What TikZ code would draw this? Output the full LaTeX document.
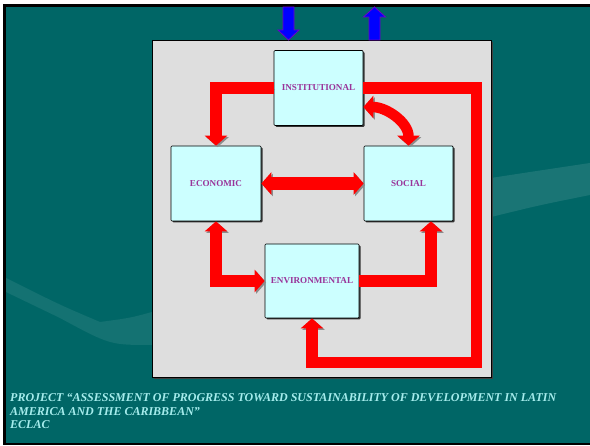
\documentclass[tikz,border=0pt]{standalone}
\usepackage{fontspec}
\setmainfont{Liberation Serif}
\usetikzlibrary{positioning, calc, arrows.meta, shadows}
\definecolor{slidebg}{RGB}{0,102,102}
\definecolor{panelgray}{RGB}{222,222,222}
\definecolor{boxcyan}{RGB}{204,255,255}
\definecolor{labelpurple}{RGB}{153,51,153}
\definecolor{footcyan}{RGB}{165,236,236}
\definecolor{outlinepurple}{RGB}{110,0,200}
\tikzset{sector/.style={draw=black, line width=0.7pt, fill=boxcyan, minimum width=89pt, minimum height=75pt, inner sep=0pt, rounded corners=1pt, drop shadow={shadow xshift=1.5pt, shadow yshift=-1.5pt, opacity=1, fill=black!80}, font=\fontsize{9.1}{10}\selectfont\bfseries, text=labelpurple}}
\tikzset{flow/.style={draw=red, line width=11.5pt, line join=miter, preaction={draw=black!45, transform canvas={shift={(1.5pt,-1.5pt)}}}}}
\tikzset{head/.tip={Triangle[length=10pt, width=22pt]}}
\tikzset{bluearrow/.style={fill=blue, draw=outlinepurple, line width=0.8pt, line join=miter}}
\tikzset{footline/.style={anchor=base west, inner sep=0pt, text=footcyan, font=\fontsize{12}{13}\selectfont\bfseries\itshape}}

\begin{document}
\begin{tikzpicture}[x=1pt, y=-1pt]
  \useasboundingbox (0,0) rectangle (590,446);
  % slide background
  \fill[white] (0,0) rectangle (590,446);
  \fill[slidebg] (3,4) rectangle (590,445);
  \fill[white, opacity=0.10] (491,178) .. controls (530,172) .. (590,163) -- (590,195) .. controls (540,205) .. (491,217) -- cycle;
  \fill[white, opacity=0.08] (6,278) .. controls (60,305) .. (100,322) .. controls (130,318) .. (152,312) -- (152,345) .. controls (110,345) .. (60,318) -- (6,292) -- cycle;
  \fill[black] (3,4) rectangle (590,7);
  \fill[black] (3,4) rectangle (6,445);
  \fill[black] (3,443) rectangle (590,445);

  % panel
  \draw[fill=panelgray, line width=0.7pt, drop shadow={shadow xshift=2pt, shadow yshift=-2pt, opacity=1, fill=black!75}] (152,40) rectangle (491,377);

  % flows in and out
  \coordinate (inflow) at (288.5,40);
  \coordinate (outflow) at (374.5,7);
  \draw[bluearrow] (inflow) -- ++(-10.5,-10) -- ++(5,0) -- ++(0,-23) -- ++(11,0) -- ++(0,23) -- ++(5,0) -- cycle;
  \draw[bluearrow] (outflow) -- ++(11,10) -- ++(-5.5,0) -- ++(0,23) -- ++(-11,0) -- ++(0,-23) -- ++(-5.5,0) -- cycle;

  % sectors
  \node[sector] (inst) at (318.5,88) {INSTITUTIONAL};
  \node[sector, minimum width=90pt] (econ) at (216,183.5) {ECONOMIC};
  \node[sector] (soc) at (408.5,183.5) {SOCIAL};
  \node[sector, minimum width=94pt, minimum height=74pt] (env) at (312,281) {ENVIRONMENTAL};
  \coordinate (loopcorner) at (476.5,362.5);

  % linkages
  \draw[flow, -head] (inst.west) -| (econ.north);
  \draw[flow, -head] (inst.east) -| (loopcorner) -| (env.south);
  \draw[flow, line width=10.5pt, head-head] ([yshift=-19pt]inst.east) to[out=0, in=90] (soc.north);
  \draw[flow, line width=13pt, head-head] (econ.east) -- (econ.east -| soc.west);
  \draw[flow, head-head] (econ.south) |- (env.west);
  \draw[flow, -head] (env.east) -| ([xshift=22.5pt]soc.south);

  % footer
  \node[footline] (foot1) at (10,402) {PROJECT “ASSESSMENT OF PROGRESS TOWARD SUSTAINABILITY OF DEVELOPMENT IN LATIN};
  \node[footline] (foot2) at ($(foot1.base west)+(0,13.5)$) {AMERICA AND THE CARIBBEAN”};
  \node[footline] (foot3) at ($(foot2.base west)+(0,13.5)$) {ECLAC};
\end{tikzpicture}
\end{document}
